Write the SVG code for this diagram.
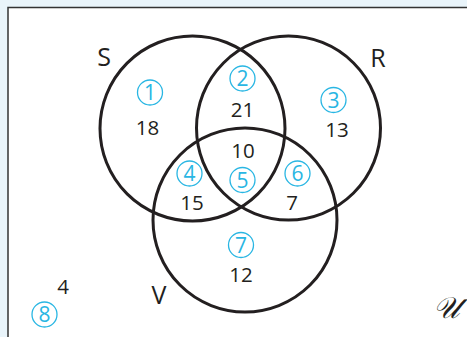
<svg xmlns="http://www.w3.org/2000/svg" width="467" height="337" viewBox="0 0 467 337">
  <style>
    .set { fill: none; stroke: #231f20; stroke-width: 3; }
    .lbl { font-family: "Open Sans", "Noto Sans", sans-serif; font-size: 25px; fill: #231f20; text-anchor: middle; }
    .cn circle { fill: none; stroke: #29b6e3; stroke-width: 1.3; }
    .cn text { font-family: "Open Sans", "Noto Sans", sans-serif; font-size: 21px; fill: #29b6e3; text-anchor: middle; }
    .cn text.num { fill: #231f20; font-size: 20.5px; }
  </style>
  <rect x="0" y="0" width="467" height="337" fill="#e9f4fa"/>
  <rect x="8" y="7.5" width="470" height="340" fill="#ffffff" stroke="#333333" stroke-width="1.5"/>
  <g id="universe">
    <text x="446" y="318" font-family="'DejaVu Serif', 'Liberation Serif', serif" font-style="italic" font-size="30" fill="#231f20" text-anchor="middle">𝒰</text>
  </g>
  <g id="set-S">
    <circle class="set" cx="192.5" cy="128.5" r="92.5"/>
    <text class="lbl" x="104" y="66">S</text>
  </g>
  <g id="set-R">
    <circle class="set" cx="288.5" cy="128" r="92"/>
    <text class="lbl" x="378" y="67">R</text>
  </g>
  <g id="set-V">
    <circle class="set" cx="245" cy="220" r="92"/>
    <text class="lbl" x="159" y="304">V</text>
  </g>
  <g id="region-1" class="cn">
    <circle cx="150" cy="92.5" r="12.5"/>
    <text x="150" y="100">1</text>
    <text class="num" x="147.5" y="135">18</text>
  </g>
  <g id="region-2" class="cn">
    <circle cx="242.5" cy="78.5" r="12.5"/>
    <text x="242.5" y="86">2</text>
    <text class="num" x="242.5" y="117">21</text>
  </g>
  <g id="region-3" class="cn">
    <circle cx="333.5" cy="100" r="12.5"/>
    <text x="333.5" y="107.5">3</text>
    <text class="num" x="337" y="137">13</text>
  </g>
  <g id="region-4" class="cn">
    <circle cx="189.5" cy="173.5" r="12.5"/>
    <text x="189.5" y="181">4</text>
    <text class="num" x="192" y="210">15</text>
  </g>
  <g id="region-5" class="cn">
    <circle cx="242.5" cy="180" r="12.5"/>
    <text x="242.5" y="187.5">5</text>
    <text class="num" x="243" y="158">10</text>
  </g>
  <g id="region-6" class="cn">
    <circle cx="297.5" cy="173.5" r="12.5"/>
    <text x="297.5" y="181">6</text>
    <text class="num" x="292" y="210">7</text>
  </g>
  <g id="region-7" class="cn">
    <circle cx="241" cy="245" r="12.5"/>
    <text x="241" y="252.5">7</text>
    <text class="num" x="241" y="282">12</text>
  </g>
  <g id="region-8" class="cn">
    <circle cx="44.5" cy="314.5" r="12.5"/>
    <text x="44.5" y="322">8</text>
    <text class="num" x="63" y="294">4</text>
  </g>
</svg>
